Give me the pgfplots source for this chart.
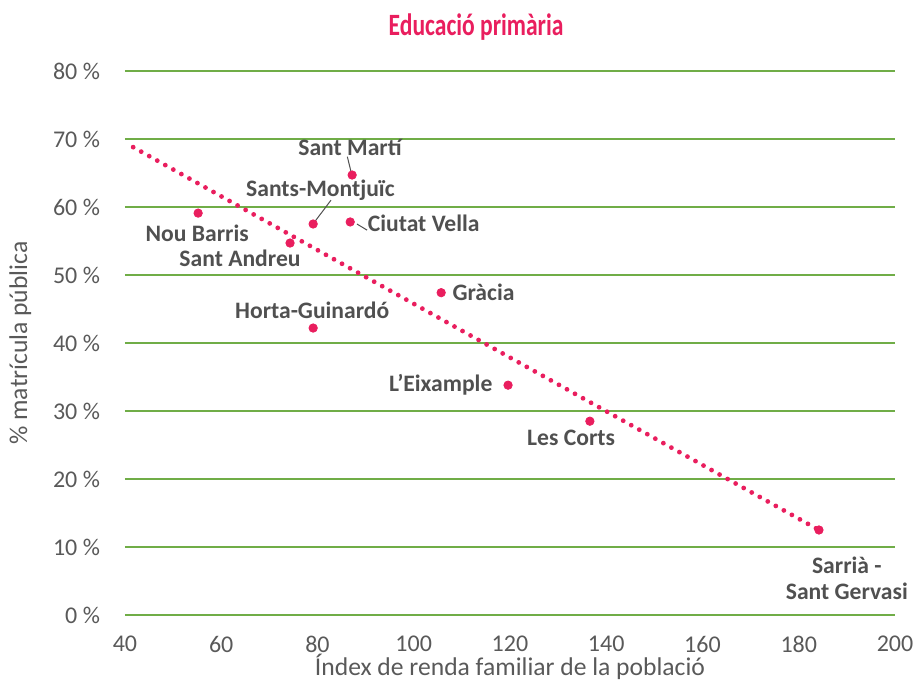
\documentclass[border=0pt]{standalone}
\usepackage{pgfplots}
\pgfplotsset{compat=1.18}
\usepackage{fontspec}
\setmainfont{Carlito}
\definecolor{pinkc}{HTML}{E91E5E}
\definecolor{gridg}{HTML}{70AD47}
\definecolor{txtg}{HTML}{595959}
\definecolor{lblg}{HTML}{505050}
\begin{document}
\begin{tikzpicture}
\begin{axis}[
  scale only axis,
  width=385pt, height=272pt,
  xmin=40, xmax=200, ymin=0, ymax=80,
  xtick={40,60,...,200}, ytick={0,10,...,80},
  axis line style={draw=none},
  major tick length=0pt,
  ymajorgrids, grid style={gridg, line width=0.55pt},
  /pgf/number format/assume math mode=true,
  ticklabel style={font=\fontsize{12}{14}\selectfont, text=txtg},
  yticklabel={\pgfmathprintnumber{\tick}~\%},
  yticklabel style={xshift=-9pt},
  xticklabel style={yshift=-7pt},
  xlabel={Índex de renda familiar de la població},
  ylabel={\% matrícula pública},
  label style={font=\fontsize{12.8}{15}\selectfont, text=txtg},
  xlabel style={yshift=6pt},
  ylabel style={yshift=4pt},
  title={\scalebox{0.76}[1]{\textbf{Educació primària}}},
  title style={font=\fontsize{15.5}{17}\selectfont, text=pinkc, at={(0.456,1)}, anchor=south, yshift=6pt},
  clip=false,
  nodes={font=\fontsize{11.8}{14}\selectfont\bfseries, text=lblg},
]
% trend line
\addplot[pinkc, line width=2.4pt, line cap=round, dash pattern=on 0pt off 4.6pt] coordinates {(41.7,68.8) (184.2,12.5)};
% data
\addplot[only marks, mark=*, mark size=2.1pt, pinkc, mark options={draw=pinkc, fill=pinkc}] coordinates {
(55.2,59.1) (74.3,54.7) (79.1,57.5) (79.1,42.2) (87.2,64.7)
(86.8,57.8) (105.7,47.4) (119.6,33.8) (136.6,28.5) (184.2,12.5)};
% labels
\node at (axis cs:86.75,68.8) {Sant Martí};
\node at (axis cs:80.6,62.5) {Sants-Montjuïc};
\node[anchor=west] at (axis cs:89.0,57.6) {Ciutat Vella};
\node at (axis cs:55.0,56.2) {Nou Barris};
\node at (axis cs:63.9,52.5) {Sant Andreu};
\node at (axis cs:78.9,44.85) {Horta-Guinardó};
\node[anchor=west] at (axis cs:106.6,47.4) {Gràcia};
\node[anchor=east] at (axis cs:117.8,33.8) {L’Eixample};
\node at (axis cs:132.7,26.0) {Les Corts};
\node[align=center, inner sep=0pt] at (axis cs:190.0,5.44) {Sarrià -\\[-1pt]Sant Gervasi};
% leader lines
\draw[lblg, line width=0.5pt] (axis cs:86.2,67.4) -- (axis cs:87.0,65.1);
\draw[lblg, line width=0.5pt] (axis cs:82.8,61.0) -- (axis cs:79.5,57.9);
\draw[lblg, line width=0.5pt] (axis cs:88.2,57.5) -- (axis cs:90.3,56.6);
\coordinate (bbsw) at (axis cs:14.03,-10.88);
\coordinate (bbne) at (axis cs:205.82,90.44);
\end{axis}
\pgfresetboundingbox
\path[use as bounding box] (bbsw) rectangle (bbne);
\end{tikzpicture}
\end{document}
